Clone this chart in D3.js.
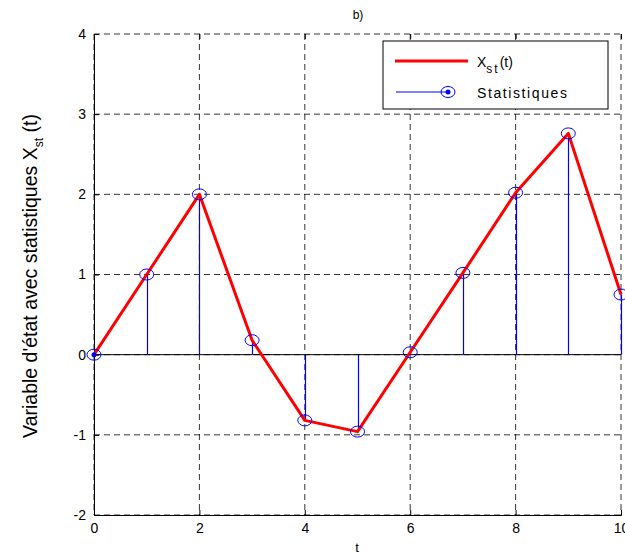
<!DOCTYPE html>
<html><head><meta charset="utf-8">
<script src="https://cdn.jsdelivr.net/npm/d3@7"></script>
<style>body{margin:0;background:#fff}svg{display:block}text{font-family:"Liberation Sans",Arial,sans-serif}</style>
</head><body><svg id="c" width="625" height="555"></svg>
<script>
const tValues = [0,1,2,3,4,5,6,7,8,9,10];
const xstValues = [0,1.0,2.0,0.18,-0.82,-0.96,0.03,1.02,2.02,2.76,0.75];
const xTicks = [0,2,4,6,8,10];
const yTicks = [-2,-1,0,1,2,3,4];

const svg = d3.select("#c");
const L=94,R=621,T=34,B=515;
const x = d3.scaleLinear().domain([0,10]).range([L,R]);
const y = d3.scaleLinear().domain([-2,4]).range([B,T]);
const fmt = d=>String(d);

// grid
const g = svg.append("g");
g.selectAll(".gx").data(xTicks).join("line")
  .attr("x1",d=>x(d)).attr("x2",d=>x(d)).attr("y1",T).attr("y2",B)
  .attr("stroke","#000").attr("stroke-width",0.8).attr("stroke-dasharray","6,4");
g.selectAll(".gy").data(yTicks).join("line")
  .attr("x1",L).attr("x2",R).attr("y1",d=>y(d)).attr("y2",d=>y(d))
  .attr("stroke","#000").attr("stroke-width",0.8).attr("stroke-dasharray","6,4");

// axes
const xAxis = d3.axisBottom(x).tickValues(xTicks).tickSize(-5).tickPadding(8).tickFormat(fmt);
const yAxis = d3.axisLeft(y).tickValues(yTicks).tickSize(-5).tickPadding(8).tickFormat(fmt);
const ax = svg.append("g").attr("transform",`translate(0,${B})`).call(xAxis);
const ay = svg.append("g").attr("transform",`translate(${L},0)`).call(yAxis);
const axTop = svg.append("g").attr("transform",`translate(0,${T})`).call(d3.axisTop(x).tickValues(xTicks).tickSize(-5).tickFormat(""));
axTop.select(".domain").remove();
[ax,ay].forEach(a=>{
  a.select(".domain").attr("stroke","#000").attr("stroke-width",1);
  a.selectAll("text").attr("font-size",14).attr("fill","#000");
  a.selectAll(".tick line").attr("stroke","#000");
});
ax.selectAll("text").attr("dy","0.71em");

// baseline y=0
svg.append("line").attr("x1",L).attr("x2",R).attr("y1",y(0)).attr("y2",y(0)).attr("stroke","#000").attr("stroke-width",1);

// stems
svg.selectAll(".stem").data(tValues).join("line")
  .attr("x1",(d)=>Math.round(x(d))+0.5).attr("x2",d=>Math.round(x(d))+0.5)
  .attr("y1",y(0)).attr("y2",(d,i)=>y(xstValues[i]))
  .attr("stroke","#0000ff").attr("stroke-width",1.2);

// red line
const line = d3.line().x((d,i)=>x(tValues[i])).y(d=>y(d));
svg.append("path").datum(xstValues).attr("d",line)
  .attr("fill","none").attr("stroke","#ff0000").attr("stroke-width",3).attr("stroke-linejoin","round");

// markers
svg.selectAll(".mk").data(tValues).join("ellipse")
  .attr("cx",d=>x(d)).attr("cy",(d,i)=>y(xstValues[i]))
  .attr("rx",7).attr("ry",5.5).attr("fill","none").attr("stroke","#0000ff").attr("stroke-width",1);
svg.append("circle").attr("cx",x(0)).attr("cy",y(0)).attr("r",2.5).attr("fill","#0000ff");

// title & labels
svg.append("text").attr("x",358).attr("y",19).attr("text-anchor","middle").attr("font-size",12).text("b)");
svg.append("text").attr("x",357).attr("y",552).attr("text-anchor","middle").attr("font-size",13).text("t");
const yl = svg.append("text").attr("transform","translate(37,276) rotate(-90)").attr("text-anchor","middle").attr("font-size",19.5);
yl.append("tspan").text("Variable d'état avec statistiques X");
yl.append("tspan").attr("font-size",12).attr("dy",6).text("st");
yl.append("tspan").attr("dy",-6).text(" (t)");

// legend
const lg = svg.append("g");
lg.append("rect").attr("x",383).attr("y",41).attr("width",225).attr("height",68).attr("fill","#fff").attr("stroke","#000").attr("stroke-width",1);
lg.append("line").attr("x1",395).attr("x2",468).attr("y1",61).attr("y2",61).attr("stroke","#ff0000").attr("stroke-width",3);
const t1 = lg.append("text").attr("x",477).attr("y",67).attr("font-size",14);
t1.append("tspan").text("X");
t1.append("tspan").attr("font-size",12).attr("dy",6).attr("letter-spacing",2).text("st");
t1.append("tspan").attr("dy",-6).text("(t)");
lg.append("line").attr("x1",396).attr("x2",448).attr("y1",92).attr("y2",92).attr("stroke","#0000ff").attr("stroke-width",1);
lg.append("ellipse").attr("cx",448).attr("cy",92).attr("rx",7).attr("ry",5.5).attr("fill","none").attr("stroke","#0000ff");
lg.append("circle").attr("cx",448).attr("cy",92).attr("r",2.5).attr("fill","#0000ff");
lg.append("text").attr("x",477).attr("y",98).attr("font-size",14).attr("letter-spacing",1.6).text("Statistiques");
</script></body></html>
